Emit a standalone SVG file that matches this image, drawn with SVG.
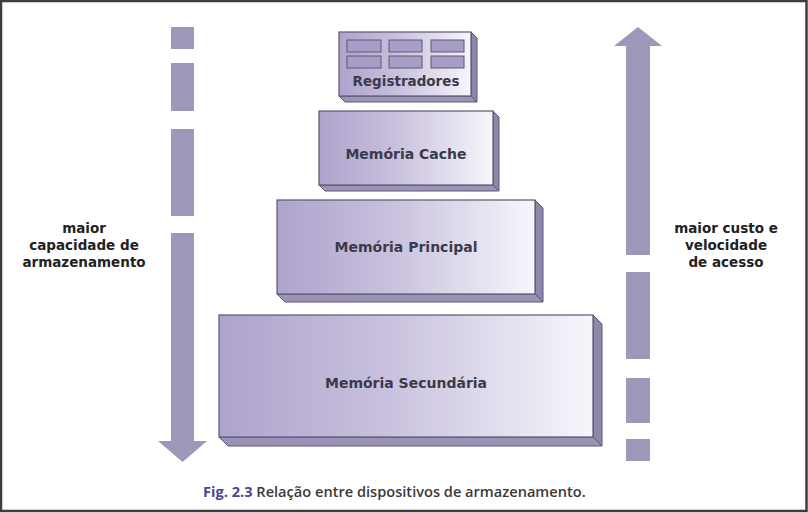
<svg xmlns="http://www.w3.org/2000/svg" width="808" height="513" viewBox="0 0 808 513">
<defs>
<linearGradient id="face" x1="0" y1="0" x2="1" y2="0">
<stop offset="0" stop-color="#aea3cc"/>
<stop offset="0.45" stop-color="#c9c1de"/>
<stop offset="1" stop-color="#f7f6fb"/>
</linearGradient>
<style>
.front{fill:url(#face);stroke:#5c5870;stroke-width:1.2}
.side{fill:#8f87ab;stroke:#5c5870;stroke-width:1}
.bottom{fill:#9c94b8;stroke:#5c5870;stroke-width:1}
.cell{fill:#a79dc6;stroke:#5c5870;stroke-width:1}
.lbl{font-family:"DejaVu Sans",sans-serif;font-weight:bold;font-size:14px;fill:#3b3a4a;text-anchor:middle}
.side-lbl{font-family:"DejaVu Sans",sans-serif;font-weight:bold;font-size:13.5px;fill:#222;text-anchor:middle}
.arr{fill:#9f97b9}
.cap{font-family:"Open Sans",sans-serif;font-size:14.6px;font-weight:600;fill:#3a3a3a}
</style>
</defs>
<rect x="0" y="0" width="808" height="513" fill="#ffffff"/>
<rect x="1" y="1" width="805.5" height="510" fill="none" stroke="#3d3d3d" stroke-width="2.5"/>

<g id="left-arrow">
<rect class="arr" x="171" y="27" width="23" height="22"/>
<rect class="arr" x="171" y="63" width="23" height="48"/>
<rect class="arr" x="171" y="129" width="23" height="87"/>
<rect class="arr" x="171" y="233" width="23" height="209"/>
<polygon class="arr" points="158,441 207,441 182.5,462"/>
</g>

<g id="right-arrow">
<polygon class="arr" points="638,27 662,46 650,46 650,255 626,255 626,46 614,46"/>
<rect class="arr" x="626" y="272" width="24" height="87"/>
<rect class="arr" x="626" y="378" width="24" height="45"/>
<rect class="arr" x="626" y="439" width="24" height="22"/>
</g>

<g id="registradores">
<polygon class="side" points="471,32 477,38 477,102 471,96"/>
<polygon class="bottom" points="339,96 471,96 477,102 345,102"/>
<rect class="front" x="339" y="32" width="132" height="64"/>
<rect class="cell" x="347" y="40" width="34" height="12"/>
<rect class="cell" x="389" y="40" width="33" height="12"/>
<rect class="cell" x="431" y="40" width="33" height="12"/>
<rect class="cell" x="347" y="56" width="34" height="12"/>
<rect class="cell" x="389" y="56" width="33" height="12"/>
<rect class="cell" x="431" y="56" width="33" height="12"/>
<text class="lbl" x="406" y="86" style="font-size:13.5px">Registradores</text>
</g>

<g id="cache">
<polygon class="side" points="493,111 499,117 499,191 493,185"/>
<polygon class="bottom" points="319,185 493,185 499,191 325,191"/>
<rect class="front" x="319" y="111" width="174" height="74"/>
<text class="lbl" x="406" y="159">Memória Cache</text>
</g>

<g id="principal">
<polygon class="side" points="535,200 543,208 543,302 535,294"/>
<polygon class="bottom" points="277,294 535,294 543,302 285,302"/>
<rect class="front" x="277" y="200" width="258" height="94"/>
<text class="lbl" x="406" y="252">Memória Principal</text>
</g>

<g id="secundaria">
<polygon class="side" points="593,315 602,324 602,446 593,437"/>
<polygon class="bottom" points="219,437 593,437 602,446 228,446"/>
<rect class="front" x="219" y="315" width="374" height="122"/>
<text class="lbl" x="406" y="388">Memória Secundária</text>
</g>

<g id="label-left">
<text class="side-lbl" x="84" y="233">maior</text>
<text class="side-lbl" x="84" y="250">capacidade de</text>
<text class="side-lbl" x="84" y="267">armazenamento</text>
</g>

<g id="label-right">
<text class="side-lbl" x="726" y="233">maior custo e</text>
<text class="side-lbl" x="726" y="250">velocidade</text>
<text class="side-lbl" x="726" y="267">de acesso</text>
</g>

<g id="caption">
<text class="cap" x="203" y="497"><tspan fill="#4e4590" font-weight="bold">Fig. 2.3</tspan> Relação entre dispositivos de armazenamento.</text>
</g>
</svg>
